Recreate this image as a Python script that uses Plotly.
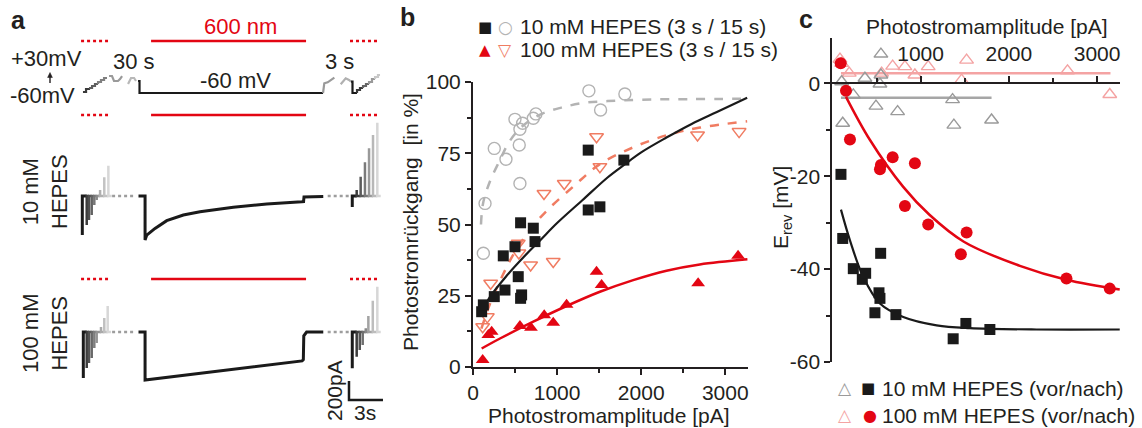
import plotly.graph_objects as go

W, H = 1142, 428

# ======================= DATA =======================
# ---- panel a: voltage protocol (time in s, voltage in mV), one list per drawn segment
proto_t = [
    [0.26, 0.53, 0.53, 0.79, 0.79],
    [0.79, 1.06, 1.06, 1.32, 1.32, 1.59],
    [1.59, 1.59, 1.85, 1.85, 2.12, 2.12, 2.38],
    [2.56, 2.82, 3.00, 3.35, 3.53, 3.71],
    [4.24, 4.50, 4.77, 4.94],
    [5.12, 5.25, 5.25, 21.45],
    [21.45, 21.56, 21.86, 22.22, 22.45],
    [23.01, 23.45, 23.74, 23.92],
    [23.92, 24.05, 24.05, 24.45],
    [24.45, 24.45, 24.71, 24.71, 24.98],
    [24.98, 24.98, 25.24, 25.24, 25.51],
    [25.51, 25.51, 25.77, 25.77, 26.04],
    [26.04, 26.04, 26.30, 26.30, 26.48],
]
proto_V = [
    [-54.7, -54.7, -38.8, -38.8, -33.5],
    [-33.5, -33.5, -22.9, -22.9, -12.3, -12.3],
    [-12.3, -1.7, -1.7, 8.9, 8.9, 19.5, 19.5],
    [30, 30, 3.6, 3.6, 14.2, 30],
    [-12.3, 19.5, 19.5, 3.6],
    [3.6, 3.6, -60, -60],
    [-60, -8.6, -3.3, 8.9, 21.1],
    [-13.9, 17.9, 8.9, -0.1],
    [-0.1, -0.1, -60, -60],
    [-60, -44.1, -44.1, -33.5, -33.5],
    [-33.5, -22.9, -22.9, -12.3, -12.3],
    [-12.3, -1.7, -1.7, 14.2, 14.2],
    [14.2, 24.8, 24.8, 35.4, 35.4],
]

# ---- panel a: light periods (s)
light_pulse_left = [0.09, 2.47]
light_main = [6.27, 19.95]
light_pulse_right = [23.83, 26.30]

# ---- panel a: current traces (time s, current pA)
fam10_left_t = [0.20, 0.59, 0.79, 1.03, 1.26, 1.47, 1.68, 1.77, 2.14, 2.50]
fam10_left_I = [-410, -305, -252, -200, -95, -42, -10, 63, 196, 318]
fam10_right_t = [24.03, 24.42, 24.77, 25.15, 25.51, 25.86, 26.24]
fam10_right_I = [-115, 63, 203, 354, 501, 641, 770]
main10_t = [5.16, 5.74, 5.74, 5.89, 6.62, 7.65, 9.12, 10.59, 13.53, 16.48, 19.57, 19.73, 19.77, 21.47]
main10_I = [0, 0, -462, -410, -340, -259, -200, -165, -119, -84, -60, -58, -10, -5]

fam100_left_t = [0.29, 0.59, 0.79, 1.03, 1.26, 1.47, 1.85, 2.14, 2.44]
fam100_left_I = [-483, -378, -326, -273, -168, -116, 52, 147, 273]
fam100_right_t = [24.03, 24.42, 24.69, 24.95, 25.22, 25.45, 25.84, 26.24]
fam100_right_I = [-381, -259, -190, -137, 40, 168, 329, 476]
main100_t = [5.16, 5.74, 5.74, 19.60, 19.71, 19.75, 20.00, 21.47]
main100_I = [0, 0, -504, -304, -290, -40, 0, 0]

gap_t = [[2.83, 4.85], [21.86, 23.90]]

scalebar_s = 3
scalebar_pA = 200

# ---- panel b (amplitude pA, recovery %)
b_sq_x = [103, 123, 253, 380, 360, 499, 538, 566, 578, 566, 717, 737, 1370, 1509, 1370, 1794]
b_sq_y = [19.4, 21.8, 24.7, 27.0, 39.0, 42.2, 31.7, 50.6, 25.3, 24.1, 48.7, 44.0, 55.1, 56.2, 76.1, 72.6]
b_circ_x = [123, 143, 253, 392, 499, 550, 558, 558, 590, 717, 748, 1378, 1517, 1806]
b_circ_y = [39.9, 57.4, 76.7, 72.9, 86.9, 77.9, 83.4, 64.4, 85.5, 87.3, 88.8, 96.9, 90.2, 95.8]
b_tri_x = [115, 182, 222, 558, 689, 847, 954, 1113, 1469, 1529, 2677, 3152]
b_tri_y = [2.5, 11.2, 12.4, 14.4, 13.8, 18.2, 15.5, 21.8, 33.4, 28.8, 29.4, 39.0]
b_dtri_x = [115, 170, 210, 538, 545, 685, 954, 844, 1085, 1469, 1509, 2670, 3164]
b_dtri_y = [14.1, 17.6, 29.4, 43.4, 40.0, 35.8, 37.0, 60.9, 64.4, 80.8, 70.3, 81.4, 82.6]

b_fit10_x = [100, 200, 400, 600, 800, 1000, 1300, 1600, 1800, 2000, 2300, 2600, 2900, 3260]
b_fit10_y = [19.0, 24.5, 32.0, 38.5, 44.5, 50.5, 58.5, 66.5, 71.0, 75.3, 80.5, 85.3, 89.5, 94.5]
b_fit10s_x = [95, 120, 200, 320, 420, 520, 650, 830, 1050, 1300, 1600, 2000, 2600, 3260]
b_fit10s_y = [50, 57.5, 65, 72.6, 78.5, 82.5, 86, 89, 91, 92.6, 93.3, 93.8, 94, 94.1]
b_fit100s_x = [100, 200, 350, 500, 700, 900, 1200, 1500, 1900, 2300, 2700, 3260]
b_fit100s_y = [13.5, 22, 32, 40.5, 49, 55.5, 63.5, 71.0, 77.0, 81.3, 84.0, 86.2]
b_fit100_x = [103, 321, 717, 1113, 1509, 1905, 2301, 2697, 3263]
b_fit100_y = [6.5, 10.0, 15.9, 21.4, 26.4, 30.5, 33.8, 36.0, 37.8]

# ---- panel c (amplitude pA, E_rev mV)
c_gtri_x = [105, 117, 237, 369, 494, 550, 550, 539, 739, 1362, 1377, 1804]
c_gtri_y = [0.35, -8.6, -2.5, 1.1, -4.9, 6.3, 1.8, -0.15, -6.1, -3.5, -9.0, -7.9]
c_gline_x = [97, 1804]
c_gline_y = [-3.1, -3.1]
c_ptri_x = [86, 105, 191, 558, 683, 822, 935, 1086, 1464, 1521, 2665, 3144]
c_ptri_y = [5.2, 4.3, 2.2, 2.2, 3.7, 3.6, 1.8, 3.6, 0.7, 5.0, 2.7, -2.4]
c_pline_x = [97, 3152]
c_pline_y = [2.15, 2.15]
c_sq_x = [97, 117, 237, 339, 377, 547, 528, 539, 482, 720, 1369, 1513, 1785]
c_sq_y = [-19.6, -33.4, -39.9, -42.2, -40.9, -36.6, -45.1, -46.3, -49.4, -49.8, -55.0, -51.7, -53.0]
c_fit10_x = [97, 199, 350, 539, 803, 1181, 1558, 2313, 3257]
c_fit10_y = [-27.2, -33.8, -41.7, -47.4, -50.3, -52.1, -52.7, -53.0, -53.0]
c_circ_x = [94, 154, 199, 550, 539, 683, 935, 822, 1086, 1521, 1456, 2653, 3144]
c_circ_y = [4.3, -1.6, -12.1, -17.6, -18.5, -15.9, -17.2, -26.4, -30.4, -32.1, -36.8, -42.0, -44.2]
c_fit100_x = [154, 426, 803, 1100, 1490, 2125, 2653, 3257]
c_fit100_y = [-2.9, -12.2, -22.3, -28.3, -34.1, -39.3, -42.3, -44.4]

# ======================= STYLE =======================
INK = '#231f20'
RED = '#e30613'
SALMON = '#f07c62'
GRAY_C = '#b3b3b3'
PINK = '#f4a3a3'
GRAY_T = '#9a9a9a'
FONT = 'Liberation Sans, Arial, Helvetica, sans-serif'
SYMFONT = 'DejaVu Sans, sans-serif'
TXT = 21      # general text size
TICK = 21     # tick label size
ATXT = 22     # panel a text size

proto_colors = ['#3a3a3a', '#5e5e5e', '#808080', '#9a9a9a', '#b8b8b8', '#1a1a1a',
                '#9a9a9a', '#b0b0b0', '#1a1a1a', '#3a3a3a', '#666666', '#999999', '#c8c8c8']


def px_x(p):
    return p / W


def px_y(p):
    return 1 - p / H


def grays(n, lo=60, hi=215):
    out = ['#1a1a1a']
    for i in range(1, n):
        v = int(lo + (hi - lo) * (i - 1) / max(1, n - 2))
        out.append('#%02x%02x%02x' % (v, v, v))
    return out


fig = go.Figure()


def line(x, y, xa, ya, color, width, dash='solid', shape='linear'):
    fig.add_trace(go.Scatter(x=x, y=y, xaxis=xa, yaxis=ya, mode='lines',
                             line=dict(color=color, width=width, dash=dash, shape=shape),
                             hoverinfo='skip', showlegend=False, cliponaxis=False))


def marks(x, y, xa, ya, symbol, color, size, lw=1.5):
    fig.add_trace(go.Scatter(x=x, y=y, xaxis=xa, yaxis=ya, mode='markers',
                             marker=dict(symbol=symbol, color=color, size=size,
                                         line=dict(color=color, width=lw)),
                             hoverinfo='skip', showlegend=False, cliponaxis=False))


# ---------- panel a ----------
for ts, vs, col in zip(proto_t, proto_V, proto_colors):
    line(ts, vs, 'x', 'y', col, 2.2)


def family(ts, Is, ya):
    cols = grays(len(ts))
    for i in range(len(ts)):
        t_next = ts[i + 1] if i + 1 < len(ts) else ts[i] + 0.3
        line([ts[i], ts[i], t_next], [Is[i], 0, 0], 'x', ya, cols[i], 3 if i == 0 else 2.5)


family(fam10_left_t, fam10_left_I, 'y2')
family(fam10_right_t, fam10_right_I, 'y2')
family(fam100_left_t, fam100_left_I, 'y3')
family(fam100_right_t, fam100_right_I, 'y3')
for g in gap_t:
    line(g, [0, 0], 'x', 'y2', '#9d9d9d', 2.5, dash='dot')
    line(g, [0, 0], 'x', 'y3', '#9d9d9d', 2.5, dash='dot')
line(main10_t, main10_I, 'x', 'y2', '#1a1a1a', 3)
line(main100_t, main100_I, 'x', 'y3', '#1a1a1a', 3)

# scale bar (origin position chosen in time / current units)
sb_t0, sb_I0 = 23.74, -714
line([sb_t0, sb_t0, sb_t0 + scalebar_s], [sb_I0 + scalebar_pA, sb_I0, sb_I0], 'x', 'y3', '#1a1a1a', 2.5)

# light bars
shapes = []
for ypix in (41, 115, 279):
    for (t0, t1), dash in ((light_pulse_left, 'dot'), (light_main, 'solid'), (light_pulse_right, 'dot')):
        shapes.append(dict(type='line', xref='x', yref='paper', x0=t0, x1=t1,
                           y0=px_y(ypix), y1=px_y(ypix), line=dict(color=RED, width=2.5, dash=dash)))

# small arrow between "+30mV" and "-60mV" (decoration, paper coords)
shapes.append(dict(type='line', xref='paper', yref='paper', x0=px_x(50), x1=px_x(50),
                   y0=px_y(83), y1=px_y(76), line=dict(color=INK, width=1.4)))
shapes.append(dict(type='path', xref='paper', yref='paper', fillcolor=INK, line=dict(color=INK, width=0.5),
                   path='M %f %f L %f %f L %f %f Z' % (px_x(47.6), px_y(77.5), px_x(50), px_y(72.5),
                                                       px_x(52.4), px_y(77.5))))

# ---------- panel b ----------
line(b_fit10s_x, b_fit10s_y, 'x2', 'y4', GRAY_C, 2.5, dash='dash', shape='spline')
marks(b_circ_x, b_circ_y, 'x2', 'y4', 'circle-open', GRAY_C, 12, 1.4)
line(b_fit100s_x, b_fit100s_y, 'x2', 'y4', SALMON, 2.5, dash='dash', shape='spline')
marks(b_dtri_x, b_dtri_y, 'x2', 'y4', 'triangle-down-open', SALMON, 12, 1.5)
line(b_fit10_x, b_fit10_y, 'x2', 'y4', '#1a1a1a', 2.2, shape='spline')
marks(b_sq_x, b_sq_y, 'x2', 'y4', 'square', '#1a1a1a', 11, 0)
line(b_fit100_x, b_fit100_y, 'x2', 'y4', RED, 2.5, shape='spline')
marks(b_tri_x, b_tri_y, 'x2', 'y4', 'triangle-up', RED, 12, 0)

# ---------- panel c ----------
line(c_pline_x, c_pline_y, 'x3', 'y5', PINK, 2.5)
line(c_gline_x, c_gline_y, 'x3', 'y5', '#a6a6a6', 2.5)
marks(c_ptri_x, c_ptri_y, 'x3', 'y5', 'triangle-up-open', PINK, 12, 1.4)
marks(c_gtri_x, c_gtri_y, 'x3', 'y5', 'triangle-up-open', GRAY_T, 12, 1.4)
line(c_fit10_x, c_fit10_y, 'x3', 'y5', '#1a1a1a', 2.2, shape='spline')
marks(c_sq_x, c_sq_y, 'x3', 'y5', 'square', '#1a1a1a', 11, 0)
line(c_fit100_x, c_fit100_y, 'x3', 'y5', RED, 2.5, shape='spline')
marks(c_circ_x, c_circ_y, 'x3', 'y5', 'circle', RED, 12, 0)

# ---------- annotations ----------
ann = []


def txt(s, x, y, size=TXT, color=INK, xanchor='center', yanchor='middle', angle=0, family=FONT):
    ann.append(dict(text=s, x=px_x(x), y=px_y(y), xref='paper', yref='paper', showarrow=False,
                    xanchor=xanchor, yanchor=yanchor, textangle=angle,
                    font=dict(size=size, color=color, family=family)))


# panel letters
txt('<b>a</b>', 18, 20, size=25)
txt('<b>b</b>', 408, 17, size=25)
txt('<b>c</b>', 806, 19, size=25)

# panel a texts
txt('600 nm', 240, 27, size=ATXT, color=RED)
txt('+30mV', 46, 59, size=ATXT)
txt('-60mV', 42, 95, size=ATXT)
txt('30 s', 134, 61, size=ATXT)
txt('3 s', 339, 61, size=ATXT)
txt('-60 mV', 235, 80, size=ATXT)
txt('10 mM<br>HEPES', 45, 191, size=ATXT, angle=-90)
txt('100 mM<br>HEPES', 45, 333, size=ATXT, angle=-90)
txt('200pA', 334, 391, size=TXT, angle=-90)
txt('3s', 365, 412, size=TXT)

# panel b texts
txt('Photostromamplitude [pA]', 609, 415)
txt('Photostromrückgang\u00a0 [in %]', 410, 222, angle=-90)
txt('■', 485, 27, size=15, color='#1a1a1a', family=SYMFONT)
txt('○', 505, 27, size=17, color=GRAY_C, family=SYMFONT)
txt('10 mM HEPES (3 s / 15 s)', 518, 27, xanchor='left')
txt('▲', 485, 50, size=15, color=RED, family=SYMFONT)
txt('▽', 505, 50, size=17, color=SALMON, family=SYMFONT)
txt('100 mM HEPES (3 s / 15 s)', 518, 50, xanchor='left')

# panel c texts
txt('Photostromamplitude [pA]', 987, 27)
txt('E<sub>rev</sub> [mV]', 782, 208, angle=-90)
txt('△', 845, 388, size=17, color=GRAY_T, family=SYMFONT)
txt('■', 868, 388, size=15, color='#1a1a1a', family=SYMFONT)
txt('10 mM HEPES (vor/nach)', 880, 388, xanchor='left')
txt('△', 845, 415, size=17, color=PINK, family=SYMFONT)
txt('●', 870, 415, size=16, color=RED, family=SYMFONT)
txt('100 mM HEPES (vor/nach)', 880, 415, xanchor='left')

hidden = dict(visible=False, showgrid=False, zeroline=False, fixedrange=True, automargin=False)
axstyle = dict(showline=True, linewidth=2, linecolor=INK, ticks='outside', ticklen=6, tickwidth=2,
               tickcolor=INK, showgrid=False, zeroline=False, fixedrange=True, automargin=False,
               tickfont=dict(size=TICK, color=INK, family=FONT))
minor_style = dict(ticks='outside', ticklen=4, tickwidth=2, tickcolor=INK, showgrid=False)

fig.update_layout(
    template='none',
    width=W, height=H, margin=dict(l=0, r=0, t=0, b=0, pad=0, autoexpand=False),
    paper_bgcolor='white', plot_bgcolor='rgba(0,0,0,0)',
    font=dict(family=FONT, size=TXT, color=INK), showlegend=False,
    xaxis=dict(domain=[px_x(78), px_x(390)], range=[-0.18, 27.36], anchor='y', **hidden),
    yaxis=dict(domain=[px_y(100), px_y(66)], range=[-97.1, 83.1], anchor='x', **hidden),
    yaxis2=dict(domain=[px_y(250), px_y(118)], range=[-567, 819], anchor='x', **hidden),
    yaxis3=dict(domain=[px_y(405), px_y(283)], range=[-766.5, 514.5], anchor='x', **hidden),
    xaxis2=dict(domain=[px_x(473), px_x(748)], range=[0, 3270], anchor='y4',
                tickmode='array', tickvals=[0, 1000, 2000, 3000],
                minor=dict(tickmode='array', tickvals=[500, 1500, 2500], **minor_style), **axstyle),
    yaxis4=dict(domain=[px_y(367), px_y(82)], range=[0, 100], anchor='x2',
                tickmode='array', tickvals=[0, 25, 50, 75, 100],
                minor=dict(tickmode='array', tickvals=[12.5, 37.5, 62.5, 87.5], **minor_style), **axstyle),
    xaxis3=dict(domain=[px_x(832.4), px_x(1120)], range=[0, 3260], anchor='free', position=px_y(83.3),
                side='top', tickmode='array', tickvals=[1000, 2000, 3000], ticklabelstandoff=7,
                minor=dict(tickmode='array', tickvals=[500, 1500, 2500], **minor_style), **axstyle),
    yaxis5=dict(domain=[px_y(362), px_y(38)], range=[-60, 9.76], anchor='x3',
                tickmode='array', tickvals=[0, -20, -40, -60], ticktext=['0', '-20', '-40', '-60'],
                minor=dict(tickmode='array', tickvals=[-10, -30, -50], **minor_style), **axstyle),
    shapes=shapes, annotations=ann,
)

fig.write_html('out.html', config={'displayModeBar': False},
               post_script="document.body.style.margin='0';document.body.style.overflow='hidden';")
